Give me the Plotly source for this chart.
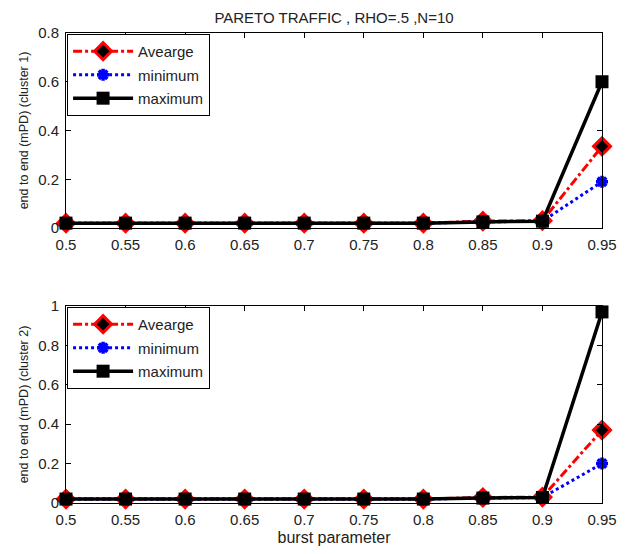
import plotly.graph_objects as go
from plotly.subplots import make_subplots

burst = [0.5, 0.55, 0.6, 0.65, 0.7, 0.75, 0.8, 0.85, 0.9, 0.95]
x_tick_labels = ["0.5", "0.55", "0.6", "0.65", "0.7", "0.75", "0.8", "0.85", "0.9", "0.95"]

c1_avg = [0.02, 0.02, 0.02, 0.02, 0.02, 0.02, 0.02, 0.028, 0.03, 0.335]
c1_min = [0.02, 0.02, 0.02, 0.02, 0.02, 0.02, 0.02, 0.025, 0.028, 0.19]
c1_max = [0.02, 0.02, 0.02, 0.02, 0.02, 0.02, 0.02, 0.025, 0.028, 0.60]

c2_avg = [0.02, 0.02, 0.02, 0.02, 0.02, 0.02, 0.02, 0.028, 0.03, 0.37]
c2_min = [0.02, 0.02, 0.02, 0.02, 0.02, 0.02, 0.02, 0.025, 0.028, 0.20]
c2_max = [0.02, 0.02, 0.02, 0.02, 0.02, 0.02, 0.02, 0.025, 0.028, 0.97]

y1_ticks = [0, 0.2, 0.4, 0.6, 0.8]
y1_labels = ["0", "0.2", "0.4", "0.6", "0.8"]
y2_ticks = [0, 0.2, 0.4, 0.6, 0.8, 1.0]
y2_labels = ["0", "0.2", "0.4", "0.6", "0.8", "1"]

FONT = "Liberation Sans, Arial, sans-serif"

# page body has an 8px default margin, so the figure is 8px smaller
W, H = 626, 546
ML, MR, MT, MB = 58, 32, 25, 51
PH = H - MT - MB  # 470

fig = make_subplots(rows=2, cols=1)


def add_series(row, avg, mn, mx, legend_name):
    fig.add_trace(go.Scatter(
        x=burst, y=avg, name="Avearge", mode="lines+markers", cliponaxis=False,
        legendgroup="a%d" % row,
        line=dict(color="#ff0000", width=3, dash="dashdot"),
        marker=dict(symbol="diamond", size=13, color="#000000",
                    line=dict(color="#ff0000", width=3)),
        legend=legend_name), row=row, col=1)
    fig.add_trace(go.Scatter(
        x=burst, y=mn, name="minimum", mode="lines+markers", cliponaxis=False,
        legendgroup="b%d" % row,
        line=dict(color="#0000ff", width=3, dash="dot"),
        marker=dict(symbol="asterisk-open", size=10, color="#0000ff",
                    line=dict(color="#0000ff", width=3.5)),
        legend=legend_name), row=row, col=1)
    fig.add_trace(go.Scatter(
        x=burst, y=mx, name="maximum", mode="lines+markers", cliponaxis=False,
        legendgroup="c%d" % row,
        line=dict(color="#000000", width=3.5),
        marker=dict(symbol="square", size=13, color="#000000"),
        legend=legend_name), row=row, col=1)


add_series(1, c1_avg, c1_min, c1_max, "legend")
add_series(2, c2_avg, c2_min, c2_max, "legend2")

axis_common = dict(showline=True, linecolor="black", linewidth=1, mirror="ticks",
                   ticks="inside", ticklen=5, tickcolor="black", showgrid=False,
                   zeroline=False, tickfont=dict(family=FONT, size=15, color="#222"))

fig.update_xaxes(**axis_common, range=[0.5, 0.95], tickvals=burst, ticktext=x_tick_labels,
                 ticklabelstandoff=3)
fig.update_yaxes(**axis_common, ticklabelstandoff=3)

top_lo = (H - MB - 220) / PH
bot_hi = (495 - 298) / PH

fig.update_xaxes(domain=[0, 1], row=1, col=1)
fig.update_xaxes(domain=[0, 1], row=2, col=1,
                 title=dict(text="burst parameter", font=dict(family=FONT, size=16, color="#222"),
                            standoff=4))
fig.update_yaxes(range=[0, 0.8], tickvals=y1_ticks, ticktext=y1_labels, row=1, col=1,
                 domain=[top_lo, 1.0],
                 title=dict(text="end to end (mPD) (cluster 1)",
                            font=dict(family=FONT, size=12.5, color="#222"), standoff=6))
fig.update_yaxes(range=[0, 1.0], tickvals=y2_ticks, ticktext=y2_labels, row=2, col=1,
                 domain=[0, bot_hi],
                 title=dict(text="end to end (mPD) (cluster 2)",
                            font=dict(family=FONT, size=12.5, color="#222"), standoff=6))

legend_common = dict(bgcolor="white", bordercolor="black", borderwidth=1,
                     font=dict(family=FONT, size=15, color="#222"),
                     xanchor="left", yanchor="top", itemwidth=60, tracegroupgap=1)

fig.update_layout(
    width=W, height=H,
    margin=dict(l=ML, r=MR, t=MT, b=MB),
    plot_bgcolor="white", paper_bgcolor="white",
    title=dict(text="PARETO TRAFFIC , RHO=.5 ,N=10", x=(ML + (W - MR - ML) / 2) / W,
               xanchor="center", y=1 - 10 / H, yanchor="middle",
               font=dict(family=FONT, size=15, color="#222")),
    legend=dict(**legend_common, x=0.002, y=0.998),
    legend2=dict(**legend_common, x=0.002, y=bot_hi - 0.002),
    showlegend=True,
)

fig.write_html("out.html")
